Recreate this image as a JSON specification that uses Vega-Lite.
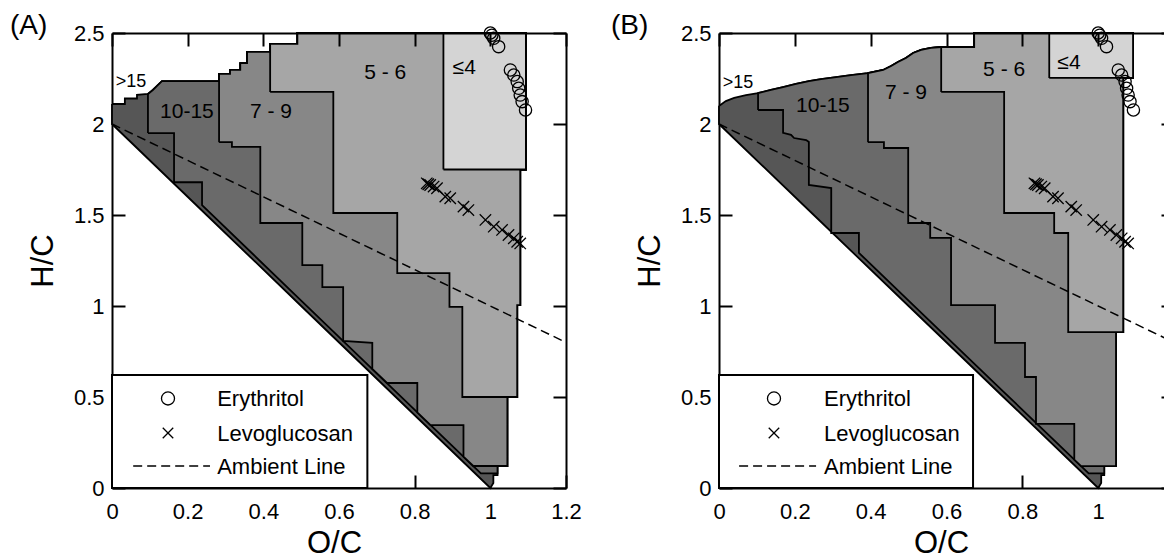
{
"$schema":"https://vega.github.io/schema/vega-lite/v6.json",
"background":"white",
"padding":{"left":10,"top":12,"right":0,"bottom":0},
"config":{"font":"Liberation Sans","view":{"stroke":null},
"axis":{"domainColor":"black","domainWidth":2,"tickColor":"black","tickWidth":2,"tickSize":-13,"labelFontSize":22,"labelColor":"black","labelFont":"Liberation Sans","titleFont":"Liberation Sans","titleFontSize":31,"titleFontWeight":"normal","titleColor":"black","grid":false,"labelFlush":false}},
"datasets":{
"poly":[
{"panel":"A","region":">15","oc":0,"hc":2.11},{"panel":"A","region":">15","oc":0.034,"hc":2.11},{"panel":"A","region":">15","oc":0.034,"hc":2.14},{"panel":"A","region":">15","oc":0.066,"hc":2.14},{"panel":"A","region":">15","oc":0.066,"hc":2.16},{"panel":"A","region":">15","oc":0.095,"hc":2.165},{"panel":"A","region":">15","oc":0.108,"hc":2.187},{"panel":"A","region":">15","oc":0.119,"hc":2.209},{"panel":"A","region":">15","oc":0.132,"hc":2.236},{"panel":"A","region":">15","oc":0.283,"hc":2.236},{"panel":"A","region":">15","oc":0.283,"hc":2.275},{"panel":"A","region":">15","oc":0.312,"hc":2.275},{"panel":"A","region":">15","oc":0.312,"hc":2.297},{"panel":"A","region":">15","oc":0.339,"hc":2.297},{"panel":"A","region":">15","oc":0.339,"hc":2.335},{"panel":"A","region":">15","oc":0.357,"hc":2.335},{"panel":"A","region":">15","oc":0.357,"hc":2.396},{"panel":"A","region":">15","oc":0.418,"hc":2.396},{"panel":"A","region":">15","oc":0.418,"hc":2.44},{"panel":"A","region":">15","oc":0.49,"hc":2.44},{"panel":"A","region":">15","oc":0.49,"hc":2.5},{"panel":"A","region":">15","oc":1.094,"hc":2.5},{"panel":"A","region":">15","oc":1.094,"hc":1.75},{"panel":"A","region":">15","oc":1.079,"hc":1.75},{"panel":"A","region":">15","oc":1.079,"hc":1.005},{"panel":"A","region":">15","oc":1.071,"hc":1.005},{"panel":"A","region":">15","oc":1.071,"hc":0.5},{"panel":"A","region":">15","oc":1.045,"hc":0.5},{"panel":"A","region":">15","oc":1.045,"hc":0.121},{"panel":"A","region":">15","oc":1.019,"hc":0.121},{"panel":"A","region":">15","oc":1.019,"hc":0.071},{"panel":"A","region":">15","oc":1.008,"hc":0.071},{"panel":"A","region":">15","oc":1.008,"hc":0.027},{"panel":"A","region":">15","oc":1.0,"hc":0},{"panel":"A","region":">15","oc":0.75,"hc":0.5},{"panel":"A","region":">15","oc":0.5,"hc":1.0},{"panel":"A","region":">15","oc":0.25,"hc":1.5},{"panel":"A","region":">15","oc":0,"hc":2.0},{"panel":"A","region":">15","oc":0,"hc":2.11},
{"panel":"A","region":"10-15","oc":0.095,"hc":1.95},{"panel":"A","region":"10-15","oc":0.095,"hc":2.165},{"panel":"A","region":"10-15","oc":0.108,"hc":2.187},{"panel":"A","region":"10-15","oc":0.119,"hc":2.209},{"panel":"A","region":"10-15","oc":0.132,"hc":2.236},{"panel":"A","region":"10-15","oc":0.283,"hc":2.236},{"panel":"A","region":"10-15","oc":0.283,"hc":2.275},{"panel":"A","region":"10-15","oc":0.312,"hc":2.275},{"panel":"A","region":"10-15","oc":0.312,"hc":2.297},{"panel":"A","region":"10-15","oc":0.339,"hc":2.297},{"panel":"A","region":"10-15","oc":0.339,"hc":2.335},{"panel":"A","region":"10-15","oc":0.357,"hc":2.335},{"panel":"A","region":"10-15","oc":0.357,"hc":2.396},{"panel":"A","region":"10-15","oc":0.418,"hc":2.396},{"panel":"A","region":"10-15","oc":0.418,"hc":2.44},{"panel":"A","region":"10-15","oc":0.49,"hc":2.44},{"panel":"A","region":"10-15","oc":0.49,"hc":2.5},{"panel":"A","region":"10-15","oc":1.094,"hc":2.5},{"panel":"A","region":"10-15","oc":1.094,"hc":1.75},{"panel":"A","region":"10-15","oc":1.079,"hc":1.75},{"panel":"A","region":"10-15","oc":1.079,"hc":1.005},{"panel":"A","region":"10-15","oc":1.071,"hc":1.005},{"panel":"A","region":"10-15","oc":1.071,"hc":0.5},{"panel":"A","region":"10-15","oc":1.045,"hc":0.5},{"panel":"A","region":"10-15","oc":1.045,"hc":0.121},{"panel":"A","region":"10-15","oc":1.019,"hc":0.121},{"panel":"A","region":"10-15","oc":1.019,"hc":0.08},{"panel":"A","region":"10-15","oc":0.975,"hc":0.08},{"panel":"A","region":"10-15","oc":0.75,"hc":0.53},{"panel":"A","region":"10-15","oc":0.5,"hc":1.03},{"panel":"A","region":"10-15","oc":0.238,"hc":1.554},{"panel":"A","region":"10-15","oc":0.238,"hc":1.68},{"panel":"A","region":"10-15","oc":0.164,"hc":1.68},{"panel":"A","region":"10-15","oc":0.164,"hc":1.95},{"panel":"A","region":"10-15","oc":0.095,"hc":1.95},
{"panel":"A","region":"7-9","oc":0.283,"hc":1.9},{"panel":"A","region":"7-9","oc":0.283,"hc":2.275},{"panel":"A","region":"7-9","oc":0.312,"hc":2.275},{"panel":"A","region":"7-9","oc":0.312,"hc":2.297},{"panel":"A","region":"7-9","oc":0.339,"hc":2.297},{"panel":"A","region":"7-9","oc":0.339,"hc":2.335},{"panel":"A","region":"7-9","oc":0.357,"hc":2.335},{"panel":"A","region":"7-9","oc":0.357,"hc":2.396},{"panel":"A","region":"7-9","oc":0.418,"hc":2.396},{"panel":"A","region":"7-9","oc":0.418,"hc":2.44},{"panel":"A","region":"7-9","oc":0.49,"hc":2.44},{"panel":"A","region":"7-9","oc":0.49,"hc":2.5},{"panel":"A","region":"7-9","oc":1.094,"hc":2.5},{"panel":"A","region":"7-9","oc":1.094,"hc":1.75},{"panel":"A","region":"7-9","oc":1.079,"hc":1.75},{"panel":"A","region":"7-9","oc":1.079,"hc":1.005},{"panel":"A","region":"7-9","oc":1.071,"hc":1.005},{"panel":"A","region":"7-9","oc":1.071,"hc":0.5},{"panel":"A","region":"7-9","oc":1.045,"hc":0.5},{"panel":"A","region":"7-9","oc":1.045,"hc":0.121},{"panel":"A","region":"7-9","oc":0.955,"hc":0.121},{"panel":"A","region":"7-9","oc":0.929,"hc":0.172},{"panel":"A","region":"7-9","oc":0.929,"hc":0.346},{"panel":"A","region":"7-9","oc":0.842,"hc":0.346},{"panel":"A","region":"7-9","oc":0.807,"hc":0.416},{"panel":"A","region":"7-9","oc":0.807,"hc":0.577},{"panel":"A","region":"7-9","oc":0.727,"hc":0.577},{"panel":"A","region":"7-9","oc":0.688,"hc":0.654},{"panel":"A","region":"7-9","oc":0.688,"hc":0.797},{"panel":"A","region":"7-9","oc":0.611,"hc":0.808},{"panel":"A","region":"7-9","oc":0.611,"hc":1.104},{"panel":"A","region":"7-9","oc":0.556,"hc":1.104},{"panel":"A","region":"7-9","oc":0.556,"hc":1.225},{"panel":"A","region":"7-9","oc":0.503,"hc":1.225},{"panel":"A","region":"7-9","oc":0.503,"hc":1.456},{"panel":"A","region":"7-9","oc":0.392,"hc":1.456},{"panel":"A","region":"7-9","oc":0.392,"hc":1.874},{"panel":"A","region":"7-9","oc":0.317,"hc":1.874},{"panel":"A","region":"7-9","oc":0.317,"hc":1.9},{"panel":"A","region":"7-9","oc":0.283,"hc":1.9},
{"panel":"A","region":"5-6","oc":0.418,"hc":2.176},{"panel":"A","region":"5-6","oc":0.418,"hc":2.44},{"panel":"A","region":"5-6","oc":0.49,"hc":2.44},{"panel":"A","region":"5-6","oc":0.49,"hc":2.5},{"panel":"A","region":"5-6","oc":1.094,"hc":2.5},{"panel":"A","region":"5-6","oc":1.094,"hc":1.75},{"panel":"A","region":"5-6","oc":1.079,"hc":1.75},{"panel":"A","region":"5-6","oc":1.079,"hc":1.005},{"panel":"A","region":"5-6","oc":1.071,"hc":1.005},{"panel":"A","region":"5-6","oc":1.071,"hc":0.5},{"panel":"A","region":"5-6","oc":0.926,"hc":0.5},{"panel":"A","region":"5-6","oc":0.926,"hc":0.995},{"panel":"A","region":"5-6","oc":0.892,"hc":0.995},{"panel":"A","region":"5-6","oc":0.892,"hc":1.181},{"panel":"A","region":"5-6","oc":0.754,"hc":1.181},{"panel":"A","region":"5-6","oc":0.754,"hc":1.511},{"panel":"A","region":"5-6","oc":0.585,"hc":1.511},{"panel":"A","region":"5-6","oc":0.585,"hc":2.176},{"panel":"A","region":"5-6","oc":0.418,"hc":2.176},
{"panel":"A","region":"4","oc":0.876,"hc":1.75},{"panel":"A","region":"4","oc":0.876,"hc":2.5},{"panel":"A","region":"4","oc":1.094,"hc":2.5},{"panel":"A","region":"4","oc":1.094,"hc":1.75},{"panel":"A","region":"4","oc":0.876,"hc":1.75},
{"panel":"B","region":">15","oc":0,"hc":2.099},{"panel":"B","region":">15","oc":0.018,"hc":2.126},{"panel":"B","region":">15","oc":0.04,"hc":2.143},{"panel":"B","region":">15","oc":0.071,"hc":2.159},{"panel":"B","region":">15","oc":0.103,"hc":2.17},{"panel":"B","region":">15","oc":0.137,"hc":2.187},{"panel":"B","region":">15","oc":0.169,"hc":2.203},{"panel":"B","region":">15","oc":0.203,"hc":2.22},{"panel":"B","region":">15","oc":0.237,"hc":2.236},{"panel":"B","region":">15","oc":0.269,"hc":2.247},{"panel":"B","region":">15","oc":0.309,"hc":2.258},{"panel":"B","region":">15","oc":0.348,"hc":2.269},{"panel":"B","region":">15","oc":0.393,"hc":2.28},{"panel":"B","region":">15","oc":0.433,"hc":2.297},{"panel":"B","region":">15","oc":0.454,"hc":2.319},{"panel":"B","region":">15","oc":0.472,"hc":2.341},{"panel":"B","region":">15","oc":0.493,"hc":2.363},{"panel":"B","region":">15","oc":0.512,"hc":2.39},{"panel":"B","region":">15","oc":0.533,"hc":2.407},{"panel":"B","region":">15","oc":0.559,"hc":2.418},{"panel":"B","region":">15","oc":0.586,"hc":2.423},{"panel":"B","region":">15","oc":0.673,"hc":2.423},{"panel":"B","region":">15","oc":0.673,"hc":2.5},{"panel":"B","region":">15","oc":1.092,"hc":2.5},{"panel":"B","region":">15","oc":1.092,"hc":2.253},{"panel":"B","region":">15","oc":1.066,"hc":2.253},{"panel":"B","region":">15","oc":1.066,"hc":0.857},{"panel":"B","region":">15","oc":1.047,"hc":0.857},{"panel":"B","region":">15","oc":1.047,"hc":0.12},{"panel":"B","region":">15","oc":1.016,"hc":0.12},{"panel":"B","region":">15","oc":1.016,"hc":0.071},{"panel":"B","region":">15","oc":1.008,"hc":0.071},{"panel":"B","region":">15","oc":1.008,"hc":0.027},{"panel":"B","region":">15","oc":1.0,"hc":0},{"panel":"B","region":">15","oc":0.75,"hc":0.5},{"panel":"B","region":">15","oc":0.5,"hc":1.0},{"panel":"B","region":">15","oc":0.25,"hc":1.5},{"panel":"B","region":">15","oc":0,"hc":2.0},{"panel":"B","region":">15","oc":0,"hc":2.099},
{"panel":"B","region":"10-15","oc":0.103,"hc":2.077},{"panel":"B","region":"10-15","oc":0.103,"hc":2.17},{"panel":"B","region":"10-15","oc":0.137,"hc":2.187},{"panel":"B","region":"10-15","oc":0.169,"hc":2.203},{"panel":"B","region":"10-15","oc":0.203,"hc":2.22},{"panel":"B","region":"10-15","oc":0.237,"hc":2.236},{"panel":"B","region":"10-15","oc":0.269,"hc":2.247},{"panel":"B","region":"10-15","oc":0.309,"hc":2.258},{"panel":"B","region":"10-15","oc":0.348,"hc":2.269},{"panel":"B","region":"10-15","oc":0.393,"hc":2.28},{"panel":"B","region":"10-15","oc":0.433,"hc":2.297},{"panel":"B","region":"10-15","oc":0.454,"hc":2.319},{"panel":"B","region":"10-15","oc":0.472,"hc":2.341},{"panel":"B","region":"10-15","oc":0.493,"hc":2.363},{"panel":"B","region":"10-15","oc":0.512,"hc":2.39},{"panel":"B","region":"10-15","oc":0.533,"hc":2.407},{"panel":"B","region":"10-15","oc":0.559,"hc":2.418},{"panel":"B","region":"10-15","oc":0.586,"hc":2.423},{"panel":"B","region":"10-15","oc":0.673,"hc":2.423},{"panel":"B","region":"10-15","oc":0.673,"hc":2.5},{"panel":"B","region":"10-15","oc":1.092,"hc":2.5},{"panel":"B","region":"10-15","oc":1.092,"hc":2.253},{"panel":"B","region":"10-15","oc":1.066,"hc":2.253},{"panel":"B","region":"10-15","oc":1.066,"hc":0.857},{"panel":"B","region":"10-15","oc":1.047,"hc":0.857},{"panel":"B","region":"10-15","oc":1.047,"hc":0.12},{"panel":"B","region":"10-15","oc":1.016,"hc":0.12},{"panel":"B","region":"10-15","oc":1.016,"hc":0.08},{"panel":"B","region":"10-15","oc":0.975,"hc":0.08},{"panel":"B","region":"10-15","oc":0.75,"hc":0.53},{"panel":"B","region":"10-15","oc":0.5,"hc":1.03},{"panel":"B","region":"10-15","oc":0.369,"hc":1.292},{"panel":"B","region":"10-15","oc":0.369,"hc":1.401},{"panel":"B","region":"10-15","oc":0.296,"hc":1.401},{"panel":"B","region":"10-15","oc":0.296,"hc":1.648},{"panel":"B","region":"10-15","oc":0.237,"hc":1.665},{"panel":"B","region":"10-15","oc":0.237,"hc":1.901},{"panel":"B","region":"10-15","oc":0.23,"hc":1.912},{"panel":"B","region":"10-15","oc":0.198,"hc":1.923},{"panel":"B","region":"10-15","oc":0.19,"hc":1.94},{"panel":"B","region":"10-15","oc":0.169,"hc":1.951},{"panel":"B","region":"10-15","oc":0.169,"hc":2.077},{"panel":"B","region":"10-15","oc":0.103,"hc":2.077},
{"panel":"B","region":"7-9","oc":0.393,"hc":1.9},{"panel":"B","region":"7-9","oc":0.393,"hc":2.28},{"panel":"B","region":"7-9","oc":0.433,"hc":2.297},{"panel":"B","region":"7-9","oc":0.454,"hc":2.319},{"panel":"B","region":"7-9","oc":0.472,"hc":2.341},{"panel":"B","region":"7-9","oc":0.493,"hc":2.363},{"panel":"B","region":"7-9","oc":0.512,"hc":2.39},{"panel":"B","region":"7-9","oc":0.533,"hc":2.407},{"panel":"B","region":"7-9","oc":0.559,"hc":2.418},{"panel":"B","region":"7-9","oc":0.586,"hc":2.423},{"panel":"B","region":"7-9","oc":0.673,"hc":2.423},{"panel":"B","region":"7-9","oc":0.673,"hc":2.5},{"panel":"B","region":"7-9","oc":1.092,"hc":2.5},{"panel":"B","region":"7-9","oc":1.092,"hc":2.253},{"panel":"B","region":"7-9","oc":1.066,"hc":2.253},{"panel":"B","region":"7-9","oc":1.066,"hc":0.857},{"panel":"B","region":"7-9","oc":1.047,"hc":0.857},{"panel":"B","region":"7-9","oc":1.047,"hc":0.12},{"panel":"B","region":"7-9","oc":0.955,"hc":0.12},{"panel":"B","region":"7-9","oc":0.937,"hc":0.156},{"panel":"B","region":"7-9","oc":0.937,"hc":0.352},{"panel":"B","region":"7-9","oc":0.836,"hc":0.352},{"panel":"B","region":"7-9","oc":0.836,"hc":0.61},{"panel":"B","region":"7-9","oc":0.807,"hc":0.61},{"panel":"B","region":"7-9","oc":0.807,"hc":0.797},{"panel":"B","region":"7-9","oc":0.728,"hc":0.797},{"panel":"B","region":"7-9","oc":0.728,"hc":1.005},{"panel":"B","region":"7-9","oc":0.612,"hc":1.005},{"panel":"B","region":"7-9","oc":0.612,"hc":1.374},{"panel":"B","region":"7-9","oc":0.557,"hc":1.374},{"panel":"B","region":"7-9","oc":0.557,"hc":1.456},{"panel":"B","region":"7-9","oc":0.499,"hc":1.456},{"panel":"B","region":"7-9","oc":0.499,"hc":1.868},{"panel":"B","region":"7-9","oc":0.435,"hc":1.868},{"panel":"B","region":"7-9","oc":0.435,"hc":1.9},{"panel":"B","region":"7-9","oc":0.393,"hc":1.9},
{"panel":"B","region":"5-6","oc":0.586,"hc":2.176},{"panel":"B","region":"5-6","oc":0.586,"hc":2.423},{"panel":"B","region":"5-6","oc":0.673,"hc":2.423},{"panel":"B","region":"5-6","oc":0.673,"hc":2.5},{"panel":"B","region":"5-6","oc":1.092,"hc":2.5},{"panel":"B","region":"5-6","oc":1.092,"hc":2.253},{"panel":"B","region":"5-6","oc":1.066,"hc":2.253},{"panel":"B","region":"5-6","oc":1.066,"hc":0.857},{"panel":"B","region":"5-6","oc":0.921,"hc":0.857},{"panel":"B","region":"5-6","oc":0.921,"hc":1.401},{"panel":"B","region":"5-6","oc":0.884,"hc":1.401},{"panel":"B","region":"5-6","oc":0.884,"hc":1.511},{"panel":"B","region":"5-6","oc":0.752,"hc":1.511},{"panel":"B","region":"5-6","oc":0.752,"hc":2.176},{"panel":"B","region":"5-6","oc":0.586,"hc":2.176},
{"panel":"B","region":"4","oc":0.871,"hc":2.253},{"panel":"B","region":"4","oc":0.871,"hc":2.5},{"panel":"B","region":"4","oc":1.092,"hc":2.5},{"panel":"B","region":"4","oc":1.092,"hc":2.253},{"panel":"B","region":"4","oc":0.871,"hc":2.253}
],
"ambient":[{"oc":0,"hc":2.0},{"oc":1.2,"hc":0.8}],
"ery":[{"oc":1.0,"hc":2.5},{"oc":1.004,"hc":2.488},{"oc":1.009,"hc":2.471},{"oc":1.022,"hc":2.425},{"oc":1.053,"hc":2.297},{"oc":1.062,"hc":2.269},{"oc":1.071,"hc":2.233},{"oc":1.075,"hc":2.196},{"oc":1.079,"hc":2.159},{"oc":1.084,"hc":2.123},{"oc":1.093,"hc":2.077}],
"levo":[{"oc":0.832,"hc":1.674},{"oc":0.836,"hc":1.669},{"oc":0.841,"hc":1.665},{"oc":0.85,"hc":1.656},{"oc":0.859,"hc":1.647},{"oc":0.881,"hc":1.601},{"oc":0.894,"hc":1.592},{"oc":0.929,"hc":1.546},{"oc":0.942,"hc":1.527},{"oc":0.987,"hc":1.473},{"oc":1.009,"hc":1.436},{"oc":1.031,"hc":1.418},{"oc":1.048,"hc":1.39},{"oc":1.062,"hc":1.372},{"oc":1.071,"hc":1.353},{"oc":1.079,"hc":1.344}],
"labelsA":[{"label":">15","oc":0.05,"hc":2.23,"big":false},{"label":"10-15","oc":0.198,"hc":2.066,"big":true},{"label":"7 - 9","oc":0.42,"hc":2.066,"big":true},{"label":"5 - 6","oc":0.722,"hc":2.28,"big":true},{"label":"≤4","oc":0.931,"hc":2.31,"big":true}],
"labelsB":[{"label":">15","oc":0.05,"hc":2.225,"big":false},{"label":"10-15","oc":0.274,"hc":2.1,"big":true},{"label":"7 - 9","oc":0.493,"hc":2.17,"big":true},{"label":"5 - 6","oc":0.752,"hc":2.297,"big":true},{"label":"≤4","oc":0.923,"hc":2.335,"big":true}],
"legendText":[{"label":"Erythritol","hc":0.488},{"label":"Levoglucosan","hc":0.295},{"label":"Ambient Line","hc":0.117}],
"one":[{}]
},
"spacing":29,
"hconcat":[
{"width":454,"height":455,
"title":{"text":"(A)","anchor":"start","frame":"group","dx":-102,"offset":-40,"fontSize":28,"fontWeight":"normal","font":"Liberation Sans","color":"black","baseline":"alphabetic"},
"resolve":{"axis":{"x":"independent","y":"independent"}},
"layer":[
{"data":{"name":"poly"},"transform":[{"filter":"datum.panel==='A' && datum.region==='>15'"}],"mark":{"type":"line","fill":"#565656","stroke":"black","strokeWidth":1.8,"strokeJoin":"miter"},
"encoding":{"x":{"field":"oc","type":"quantitative","scale":{"domain":[0,1.2],"nice":false,"zero":false},"axis":{"orient":"bottom","values":[0,0.2,0.4,0.6,0.8,1,1.2],"format":"~g","title":"O/C","labelPadding":26,"titlePadding":6,"titleX":222,"zindex":0}},
"y":{"field":"hc","type":"quantitative","scale":{"domain":[0,2.5],"nice":false,"zero":false},"axis":{"orient":"left","values":[0,0.5,1,1.5,2,2.5],"format":"~g","title":"H/C","labelPadding":21,"titlePadding":14,"zindex":0}},"order":{"value":null}}},
{"data":{"name":"poly"},"transform":[{"filter":"datum.panel==='A' && datum.region==='10-15'"}],"mark":{"type":"line","fill":"#6a6a6a","stroke":"black","strokeWidth":1.8,"strokeJoin":"miter"},
"encoding":{"x":{"field":"oc","type":"quantitative","axis":null},"y":{"field":"hc","type":"quantitative","axis":null},"order":{"value":null}}},
{"data":{"name":"poly"},"transform":[{"filter":"datum.panel==='A' && datum.region==='7-9'"}],"mark":{"type":"line","fill":"#878787","stroke":"black","strokeWidth":1.8,"strokeJoin":"miter"},
"encoding":{"x":{"field":"oc","type":"quantitative","axis":null},"y":{"field":"hc","type":"quantitative","axis":null},"order":{"value":null}}},
{"data":{"name":"poly"},"transform":[{"filter":"datum.panel==='A' && datum.region==='5-6'"}],"mark":{"type":"line","fill":"#a6a6a6","stroke":"black","strokeWidth":1.8,"strokeJoin":"miter"},
"encoding":{"x":{"field":"oc","type":"quantitative","axis":null},"y":{"field":"hc","type":"quantitative","axis":null},"order":{"value":null}}},
{"data":{"name":"poly"},"transform":[{"filter":"datum.panel==='A' && datum.region==='4'"}],"mark":{"type":"line","fill":"#d4d4d4","stroke":"black","strokeWidth":1.8,"strokeJoin":"miter"},
"encoding":{"x":{"field":"oc","type":"quantitative","axis":null},"y":{"field":"hc","type":"quantitative","axis":null},"order":{"value":null}}},
{"data":{"name":"ambient"},"mark":{"type":"line","color":"black","strokeWidth":1.5,"strokeDash":[9,5]},
"encoding":{"x":{"field":"oc","type":"quantitative","axis":{"orient":"top","values":[0,0.2,0.4,0.6,0.8,1,1.2],"labels":false,"title":null,"zindex":1}},"y":{"field":"hc","type":"quantitative","axis":{"orient":"right","values":[0,0.5,1,1.5,2,2.5],"labels":false,"title":null,"zindex":1}}}},
{"data":{"name":"ery"},"mark":{"type":"point","shape":"circle","filled":false,"stroke":"black","strokeWidth":1.3,"size":150,"opacity":1},
"encoding":{"x":{"field":"oc","type":"quantitative","axis":null},"y":{"field":"hc","type":"quantitative","axis":null}}},
{"data":{"name":"levo"},"mark":{"type":"point","shape":"M-1,-1L1,1M-1,1L1,-1","filled":false,"stroke":"black","strokeWidth":1.3,"size":130,"opacity":1},
"encoding":{"x":{"field":"oc","type":"quantitative","axis":null},"y":{"field":"hc","type":"quantitative","axis":null}}},
{"data":{"name":"labelsA"},"mark":{"type":"text","font":"Liberation Sans","color":"black","align":"center","baseline":"middle"},
"encoding":{"x":{"field":"oc","type":"quantitative","axis":null},"y":{"field":"hc","type":"quantitative","axis":null},"text":{"field":"label"},"size":{"condition":{"test":"datum.big","value":21},"value":18}}},
{"data":{"name":"one"},"mark":{"type":"rect","fill":"white","stroke":"black","strokeWidth":2},
"encoding":{"x":{"datum":0,"type":"quantitative","axis":null},"x2":{"datum":0.675},"y":{"datum":0,"type":"quantitative","axis":null},"y2":{"datum":0.621}}},
{"data":{"name":"one"},"mark":{"type":"point","shape":"circle","filled":false,"stroke":"black","strokeWidth":1.3,"size":170,"opacity":1},
"encoding":{"x":{"datum":0.148,"type":"quantitative","axis":null},"y":{"datum":0.492,"type":"quantitative","axis":null}}},
{"data":{"name":"one"},"mark":{"type":"point","shape":"M-1,-1L1,1M-1,1L1,-1","filled":false,"stroke":"black","strokeWidth":1.3,"size":110,"opacity":1},
"encoding":{"x":{"datum":0.148,"type":"quantitative","axis":null},"y":{"datum":0.302,"type":"quantitative","axis":null}}},
{"data":{"name":"one"},"mark":{"type":"rule","color":"black","strokeWidth":1.5,"strokeDash":[9,5]},
"encoding":{"x":{"datum":0.056,"type":"quantitative","axis":null},"x2":{"datum":0.259},"y":{"datum":0.121,"type":"quantitative","axis":null}}},
{"data":{"name":"legendText"},"mark":{"type":"text","font":"Liberation Sans","fontSize":22,"color":"black","align":"left","baseline":"middle"},
"encoding":{"x":{"datum":0.278,"type":"quantitative","axis":null},"y":{"field":"hc","type":"quantitative","axis":null},"text":{"field":"label"}}}
]},
{"width":455,"height":455,
"title":{"text":"(B)","anchor":"start","frame":"group","dx":-108,"offset":-40,"fontSize":28,"fontWeight":"normal","font":"Liberation Sans","color":"black","baseline":"alphabetic"},
"resolve":{"axis":{"x":"independent","y":"independent"}},
"layer":[
{"data":{"name":"poly"},"transform":[{"filter":"datum.panel==='B' && datum.region==='>15'"}],"mark":{"type":"line","fill":"#565656","stroke":"black","strokeWidth":1.8,"strokeJoin":"miter"},
"encoding":{"x":{"field":"oc","type":"quantitative","scale":{"domain":[0,1.2],"nice":false,"zero":false},"axis":{"orient":"bottom","values":[0,0.2,0.4,0.6,0.8,1],"format":"~g","title":"O/C","labelPadding":26,"titlePadding":6,"titleX":222,"zindex":0}},
"y":{"field":"hc","type":"quantitative","scale":{"domain":[0,2.5],"nice":false,"zero":false},"axis":{"orient":"left","values":[0,0.5,1,1.5,2,2.5],"format":"~g","title":"H/C","labelPadding":21,"titlePadding":14,"zindex":0}},"order":{"value":null}}},
{"data":{"name":"poly"},"transform":[{"filter":"datum.panel==='B' && datum.region==='10-15'"}],"mark":{"type":"line","fill":"#6a6a6a","stroke":"black","strokeWidth":1.8,"strokeJoin":"miter"},
"encoding":{"x":{"field":"oc","type":"quantitative","axis":null},"y":{"field":"hc","type":"quantitative","axis":null},"order":{"value":null}}},
{"data":{"name":"poly"},"transform":[{"filter":"datum.panel==='B' && datum.region==='7-9'"}],"mark":{"type":"line","fill":"#878787","stroke":"black","strokeWidth":1.8,"strokeJoin":"miter"},
"encoding":{"x":{"field":"oc","type":"quantitative","axis":null},"y":{"field":"hc","type":"quantitative","axis":null},"order":{"value":null}}},
{"data":{"name":"poly"},"transform":[{"filter":"datum.panel==='B' && datum.region==='5-6'"}],"mark":{"type":"line","fill":"#a6a6a6","stroke":"black","strokeWidth":1.8,"strokeJoin":"miter"},
"encoding":{"x":{"field":"oc","type":"quantitative","axis":null},"y":{"field":"hc","type":"quantitative","axis":null},"order":{"value":null}}},
{"data":{"name":"poly"},"transform":[{"filter":"datum.panel==='B' && datum.region==='4'"}],"mark":{"type":"line","fill":"#d4d4d4","stroke":"black","strokeWidth":1.8,"strokeJoin":"miter"},
"encoding":{"x":{"field":"oc","type":"quantitative","axis":null},"y":{"field":"hc","type":"quantitative","axis":null},"order":{"value":null}}},
{"data":{"name":"ambient"},"mark":{"type":"line","color":"black","strokeWidth":1.5,"strokeDash":[9,5]},
"encoding":{"x":{"field":"oc","type":"quantitative","axis":{"orient":"top","values":[0,0.2,0.4,0.6,0.8,1,1.2],"labels":false,"title":null,"zindex":1}},"y":{"field":"hc","type":"quantitative","axis":{"orient":"right","values":[0,0.5,1,1.5,2,2.5],"labels":false,"title":null,"zindex":1}}}},
{"data":{"name":"ery"},"mark":{"type":"point","shape":"circle","filled":false,"stroke":"black","strokeWidth":1.3,"size":150,"opacity":1},
"encoding":{"x":{"field":"oc","type":"quantitative","axis":null},"y":{"field":"hc","type":"quantitative","axis":null}}},
{"data":{"name":"levo"},"mark":{"type":"point","shape":"M-1,-1L1,1M-1,1L1,-1","filled":false,"stroke":"black","strokeWidth":1.3,"size":130,"opacity":1},
"encoding":{"x":{"field":"oc","type":"quantitative","axis":null},"y":{"field":"hc","type":"quantitative","axis":null}}},
{"data":{"name":"labelsB"},"mark":{"type":"text","font":"Liberation Sans","color":"black","align":"center","baseline":"middle"},
"encoding":{"x":{"field":"oc","type":"quantitative","axis":null},"y":{"field":"hc","type":"quantitative","axis":null},"text":{"field":"label"},"size":{"condition":{"test":"datum.big","value":21},"value":18}}},
{"data":{"name":"one"},"mark":{"type":"rect","fill":"white","stroke":"black","strokeWidth":2},
"encoding":{"x":{"datum":0,"type":"quantitative","axis":null},"x2":{"datum":0.67},"y":{"datum":0,"type":"quantitative","axis":null},"y2":{"datum":0.621}}},
{"data":{"name":"one"},"mark":{"type":"point","shape":"circle","filled":false,"stroke":"black","strokeWidth":1.3,"size":170,"opacity":1},
"encoding":{"x":{"datum":0.145,"type":"quantitative","axis":null},"y":{"datum":0.492,"type":"quantitative","axis":null}}},
{"data":{"name":"one"},"mark":{"type":"point","shape":"M-1,-1L1,1M-1,1L1,-1","filled":false,"stroke":"black","strokeWidth":1.3,"size":110,"opacity":1},
"encoding":{"x":{"datum":0.145,"type":"quantitative","axis":null},"y":{"datum":0.302,"type":"quantitative","axis":null}}},
{"data":{"name":"one"},"mark":{"type":"rule","color":"black","strokeWidth":1.5,"strokeDash":[9,5]},
"encoding":{"x":{"datum":0.053,"type":"quantitative","axis":null},"x2":{"datum":0.256},"y":{"datum":0.121,"type":"quantitative","axis":null}}},
{"data":{"name":"legendText"},"mark":{"type":"text","font":"Liberation Sans","fontSize":22,"color":"black","align":"left","baseline":"middle"},
"encoding":{"x":{"datum":0.277,"type":"quantitative","axis":null},"y":{"field":"hc","type":"quantitative","axis":null},"text":{"field":"label"}}}
]}
]
}
